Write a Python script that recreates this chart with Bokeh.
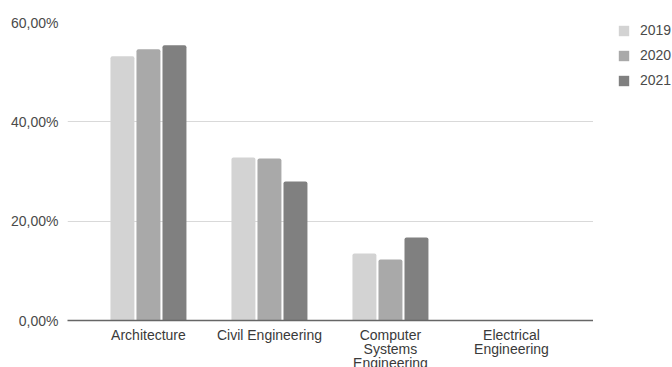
from bokeh.plotting import figure
from bokeh.layouts import row
from bokeh.models import Range1d, ColumnDataSource, Legend, LegendItem, FixedTicker
from bokeh.embed import file_html
from bokeh.resources import INLINE

categories = ["Architecture", "Civil Engineering", "Computer\nSystems\nEngineering", "Electrical\nEngineering"]
years = ["2019", "2020", "2021"]
v2019 = [53.2, 32.8, 13.5, 0.0]
v2020 = [54.6, 32.6, 12.3, 0.0]
v2021 = [55.4, 28.0, 16.7, 0.0]
colors = ["#d3d3d3", "#a9a9a9", "#808080"]
y_ticks = [0, 20, 40, 60]
y_tick_labels = ["0,00%", "20,00%", "40,00%", "60,00%"]

p = figure(frame_width=526, frame_height=298, output_backend="svg", toolbar_location=None,
           title=None, x_range=Range1d(-0.169, 4.178), y_range=Range1d(0, 60),
           min_border_left=67, min_border_right=0, min_border_top=22, min_border_bottom=0)
p.outline_line_color = None
p.background_fill_color = "white"

centers = [i + 0.5 for i in range(len(categories))]
offsets = [-0.215, 0.0, 0.215]
renderers = []
for vals, off, col in zip([v2019, v2020, v2021], offsets, colors):
    src = ColumnDataSource(dict(x=[c + off for c in centers], top=vals))
    r = p.vbar(x="x", top="top", width=0.198, source=src, fill_color=col,
               line_color=None, border_radius=[2, 2, 0, 0])
    renderers.append(r)

p.xgrid.grid_line_color = None
p.ygrid.grid_line_color = "#d9d9d9"
p.ygrid.ticker = FixedTicker(ticks=y_ticks)

p.yaxis.ticker = FixedTicker(ticks=y_ticks)
p.yaxis.major_label_overrides = {t: l for t, l in zip(y_ticks, y_tick_labels)}
p.yaxis.axis_line_color = None
p.yaxis.major_tick_line_color = None
p.yaxis.minor_tick_line_color = None
p.yaxis.major_tick_out = 0
p.yaxis.major_tick_in = 0
p.yaxis.major_label_text_font = "Liberation Sans"
p.yaxis.major_label_text_font_size = "14px"
p.yaxis.major_label_text_color = "#4a4a4a"
p.yaxis.major_label_standoff = 9

p.xaxis.ticker = FixedTicker(ticks=centers)
p.xaxis.major_label_overrides = {c: l for c, l in zip(centers, categories)}
p.xaxis.axis_line_color = "#666666"
p.xaxis.axis_line_width = 1.5
p.xaxis.major_tick_line_color = None
p.xaxis.minor_tick_line_color = None
p.xaxis.major_tick_out = 0
p.xaxis.major_tick_in = 0
p.xaxis.major_label_text_font = "Liberation Sans"
p.xaxis.major_label_text_font_size = "14px"
p.xaxis.major_label_text_color = "#3a3a3a"
p.xaxis.major_label_standoff = 6
p.xaxis.major_label_text_line_height = 0.9

# legend panel (glyph renderers kept outside the visible range; only their legend swatches show)
pl = figure(width=79, height=367, output_backend="svg", toolbar_location=None, title=None,
            x_axis_location=None, y_axis_location=None,
            x_range=Range1d(0, 1), y_range=Range1d(0, 1),
            min_border_left=24, min_border_right=0, min_border_top=14, min_border_bottom=0)
pl.grid.visible = False
pl.outline_line_color = None
leg_renderers = []
for col in colors:
    leg_renderers.append(pl.vbar(x=[5], top=[0], width=0.1, fill_color=col, line_color=None))

legend = Legend(items=[LegendItem(label=y, renderers=[r]) for y, r in zip(years, leg_renderers)],
                location="top_left", orientation="vertical")
legend.border_line_color = None
legend.background_fill_alpha = 0
legend.label_text_font = "Liberation Sans"
legend.label_text_font_size = "14px"
legend.label_text_color = "#4a4a4a"
legend.glyph_width = 13
legend.glyph_height = 13
legend.label_standoff = 10
legend.spacing = 9
legend.padding = 0
legend.margin = 0
pl.add_layout(legend, "center")

layout = row(p, pl, spacing=0)
open("out.html", "w").write(file_html(layout, INLINE))
